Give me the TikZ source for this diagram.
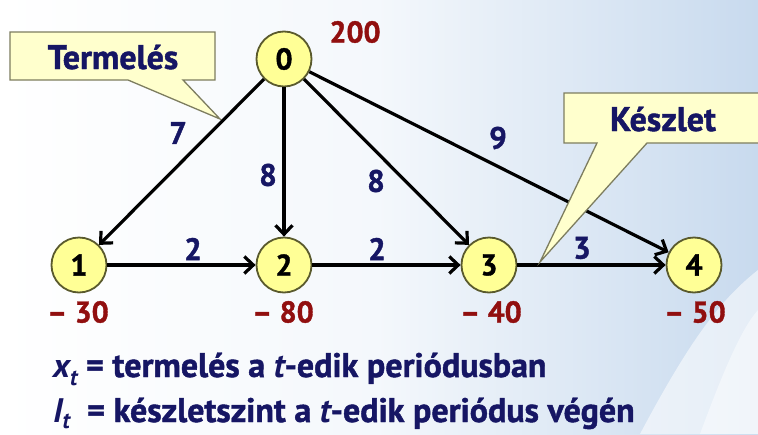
\documentclass[tikz,border=0pt]{standalone}
\usepackage{fontspec}
\setmainfont[BoldFeatures={FakeBold=1.3}]{PT Sans}
\usetikzlibrary{arrows.meta}
\definecolor{navy}{RGB}{22,22,100}
\definecolor{dred}{RGB}{145,15,15}
\definecolor{nodefill}{RGB}{255,255,150}
\definecolor{nodeline}{RGB}{90,90,45}
\definecolor{callfill}{RGB}{255,255,205}
\definecolor{callline}{RGB}{125,125,95}
\definecolor{bgblue}{RGB}{200,218,238}
\begin{document}
\begin{tikzpicture}[x=1pt,y=-1pt,
  vert/.style={circle,draw=nodeline,line width=1.8pt,fill=nodefill,minimum size=55pt,inner sep=0pt,
    font=\fontsize{30}{32}\selectfont\bfseries,text=black},
  elab/.style={font=\fontsize{31}{32}\selectfont\bfseries,text=navy,inner sep=0pt},
  vlab/.style={font=\fontsize{30}{32}\selectfont\bfseries,text=dred,inner sep=0pt},
  ctext/.style={font=\fontsize{34}{36}\selectfont\bfseries,text=navy,inner sep=0pt},
  callout/.style={fill=callfill,draw=callline,line width=1.3pt},
  arc/.style={line width=3.2pt,-{Straight Barb[length=9pt,width=17pt]}},
  btext/.style={font=\fontsize{34}{36}\selectfont\bfseries,text=navy,inner sep=0pt,anchor=base west}]
\useasboundingbox (0,0) rectangle (758,434);
% background
\shade[left color=white,right color=bgblue,middle color=white!80!bgblue] (0,0) rectangle (758,434);
\fill[white,opacity=0.55] (640,434) .. controls (690,340) and (720,300) .. (758,270) -- (758,434) -- cycle;
\fill[white,opacity=0.45] (700,434) .. controls (720,380) and (740,330) .. (758,310) -- (758,434) -- cycle;
% callouts
\draw[callout] (10,32) -- (215,32) -- (215,80) -- (183,80) -- (220,119) -- (128,80) -- (10,80) -- cycle;
\node[ctext] (term) at (113,57) {Termelés};
% vertices
\node[vert] (n0) at (284,59) {0};
\node[vert] (n1) at (79,265) {1};
\node[vert] (n2) at (284,265) {2};
\node[vert] (n3) at (489,265) {3};
\node[vert] (n4) at (694,265) {4};
% arcs
\draw[arc] (n0) -- (n1);
\draw[arc] (n0) -- (n2);
\draw[arc] (n0) -- (n3);
\draw[arc] (n0) -- (n4);
\draw[arc] (n1) -- (n2);
\draw[arc] (n2) -- (n3);
\draw[arc] (n3) -- (n4);
% Keszlet callout over arcs
\draw[callout] (564,93) -- (770,93) -- (770,143) -- (647,143) -- (540,262) -- (597,143) -- (564,143) -- cycle;
\node[ctext] (kesz) at (663,119) {Készlet};
% arc labels
\node[elab] (l01) at (178,133) {7};
\node[elab] (l02) at (268,175) {8};
\node[elab] (l03) at (376,181) {8};
\node[elab] (l04) at (498,138) {9};
\node[elab] (l12) at (193,249) {2};
\node[elab] (l23) at (377,249) {2};
\node[elab] (l34) at (582,248) {3};
% vertex values
\node[vlab] (v0) at (355,32) {200};
\node[vlab] (v1) at (78,312) {– 30};
\node[vlab] (v2) at (283,312) {– 80};
\node[vlab] (v3) at (491,312) {– 40};
\node[vlab] (v4) at (695,312) {– 50};
% bottom text
\node[btext] (t1) at (53,377) {{\itshape x\raisebox{-0.25em}{\fontsize{23}{24}\selectfont t}} = termelés a {\itshape t}-edik periódusban};
\node[btext] (t2) at (53,422) {{\itshape I\raisebox{-0.2em}{\fontsize{23}{24}\selectfont t}}\ \ = készletszint a {\itshape t}-edik periódus végén};
\end{tikzpicture}
\end{document}
